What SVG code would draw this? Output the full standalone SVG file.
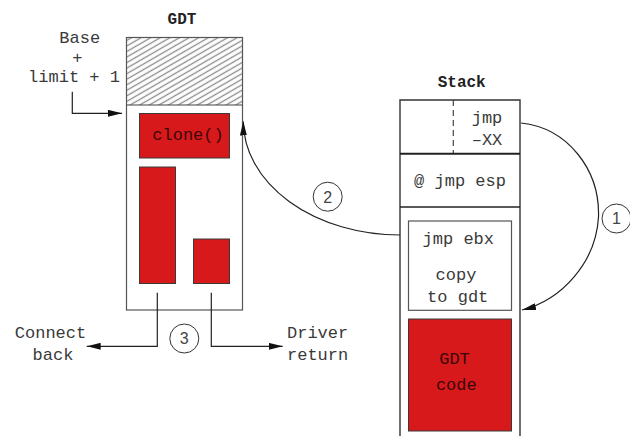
<svg xmlns="http://www.w3.org/2000/svg" width="630" height="436" viewBox="0 0 630 436">
  <style>
    .mono { font-family: "Liberation Mono", "DejaVu Sans Mono", monospace; font-size: 17px; fill: #3a3a3a; }
    .title { font-family: "Liberation Mono", "DejaVu Sans Mono", monospace; font-size: 16px; font-weight: bold; fill: #222; }
    .red-txt { fill: #3a0606; }
    .num { font-family: "Liberation Sans", Arial, sans-serif; font-size: 16px; fill: #444; }
    .box { fill: #fff; stroke: #555; stroke-width: 1.2; }
    .block { fill: #d7191c; stroke: #3a3a3a; stroke-width: 1; }
    .wire { fill: none; stroke: #222; stroke-width: 1.2; }
    .badge { fill: #fff; stroke: #333; stroke-width: 1; }
  </style>
  <defs>
    <pattern id="hatch" patternUnits="userSpaceOnUse" width="8" height="4.8" patternTransform="rotate(-30)">
      <line x1="0" y1="2.4" x2="8" y2="2.4" stroke="#8a8a8a" stroke-width="1.3"/>
    </pattern>
    <marker id="arrow" viewBox="0 0 14 7" refX="14" refY="3.5" markerWidth="14" markerHeight="7" markerUnits="userSpaceOnUse" orient="auto">
      <path d="M0,0 L14,3.5 L0,7 Z" fill="#111"/>
    </marker>
  </defs>

  <rect width="630" height="436" fill="#fff"/>

  <!-- GDT table -->
  <g id="gdt">
    <text class="title" x="182" y="24" text-anchor="middle">GDT</text>
    <rect class="box" x="126.5" y="37.5" width="116" height="272.5"/>
    <rect x="127" y="38" width="115" height="67" fill="url(#hatch)"/>
    <line x1="126.5" y1="105" x2="242.5" y2="105" stroke="#444" stroke-width="1.2"/>
  </g>

  <g id="gdt-clone">
    <rect class="block" x="139.5" y="113.5" width="90" height="44.5"/>
    <text class="mono red-txt" x="188" y="140" text-anchor="middle">clone()</text>
  </g>

  <g id="gdt-connect-back-code">
    <rect class="block" x="139.5" y="167" width="36" height="116.5"/>
  </g>

  <g id="gdt-driver-return-code">
    <rect class="block" x="193.5" y="239" width="36" height="44.5"/>
  </g>

  <!-- Base + limit + 1 label -->
  <g id="gdt-limit-label">
    <text class="mono" x="79.7" y="42.7" text-anchor="middle">Base</text>
    <text class="mono" x="77.3" y="62.5" text-anchor="middle">+</text>
    <text class="mono" x="74" y="82.3" text-anchor="middle">limit + 1</text>
  </g>

  <!-- Stack -->
  <g id="stack">
    <text class="title" x="461.7" y="86.5" text-anchor="middle">Stack</text>
    <path d="M400,436 V100 H520 V436" fill="none" stroke="#333" stroke-width="1.4"/>
  </g>

  <g id="stack-jmp-back">
    <line x1="453.3" y1="100" x2="453.3" y2="153.7" stroke="#444" stroke-width="1.2" stroke-dasharray="6,4"/>
    <text class="mono" x="487" y="123.3" text-anchor="middle">jmp</text>
    <text class="mono" x="487" y="145" text-anchor="middle">–XX</text>
    <line x1="400" y1="153.7" x2="520" y2="153.7" stroke="#222" stroke-width="2"/>
  </g>

  <g id="stack-jmp-esp">
    <text class="mono" x="460" y="186" text-anchor="middle">@ jmp esp</text>
    <line x1="400" y1="207" x2="520" y2="207" stroke="#222" stroke-width="1.6"/>
  </g>

  <g id="stack-copy">
    <rect class="box" x="408.5" y="221" width="103" height="89.3"/>
    <text class="mono" x="458.3" y="244.3" text-anchor="middle">jmp ebx</text>
    <text class="mono" x="456" y="280" text-anchor="middle">copy</text>
    <text class="mono" x="457.7" y="301.7" text-anchor="middle">to gdt</text>
  </g>

  <g id="stack-gdt-code">
    <rect class="block" x="408.5" y="319" width="103" height="112"/>
    <text class="mono red-txt" x="454.5" y="363.5" text-anchor="middle">GDT</text>
    <text class="mono red-txt" x="456.3" y="390" text-anchor="middle">code</text>
  </g>

  <!-- Outcome labels -->
  <g id="connect-back">
    <text class="mono" x="50.5" y="338.3" text-anchor="middle">Connect</text>
    <text class="mono" x="53" y="360" text-anchor="middle">back</text>
  </g>

  <g id="driver-return">
    <text class="mono" x="287" y="338.3">Driver</text>
    <text class="mono" x="287" y="360">return</text>
  </g>

  <!-- Connectors -->
  <g id="connectors">
    <path class="wire" d="M72.3,91.7 V113.3 H122" marker-end="url(#arrow)"/>
    <path class="wire" d="M521,123 C568,128 600,170 598.5,217 C596,262 562,300 522,310" marker-end="url(#arrow)"/>
    <path class="wire" d="M400,235 A157,114 0 0 1 243.3,121.5" marker-end="url(#arrow)"/>
    <path class="wire" d="M157.3,292.7 V346.3 H86.7" marker-end="url(#arrow)"/>
    <path class="wire" d="M211.3,292.7 V346.3 H282.7" marker-end="url(#arrow)"/>
  </g>

  <!-- Step badges -->
  <g id="step-1">
    <circle class="badge" cx="616.5" cy="218.5" r="14.5"/>
    <text class="num" x="616.5" y="224.3" text-anchor="middle">1</text>
  </g>
  <g id="step-2">
    <circle class="badge" cx="327.7" cy="196.7" r="14.5"/>
    <text class="num" x="327.7" y="202.5" text-anchor="middle">2</text>
  </g>
  <g id="step-3">
    <circle class="badge" cx="184.3" cy="338.5" r="14.5"/>
    <text class="num" x="184.3" y="344.3" text-anchor="middle">3</text>
  </g>
</svg>
